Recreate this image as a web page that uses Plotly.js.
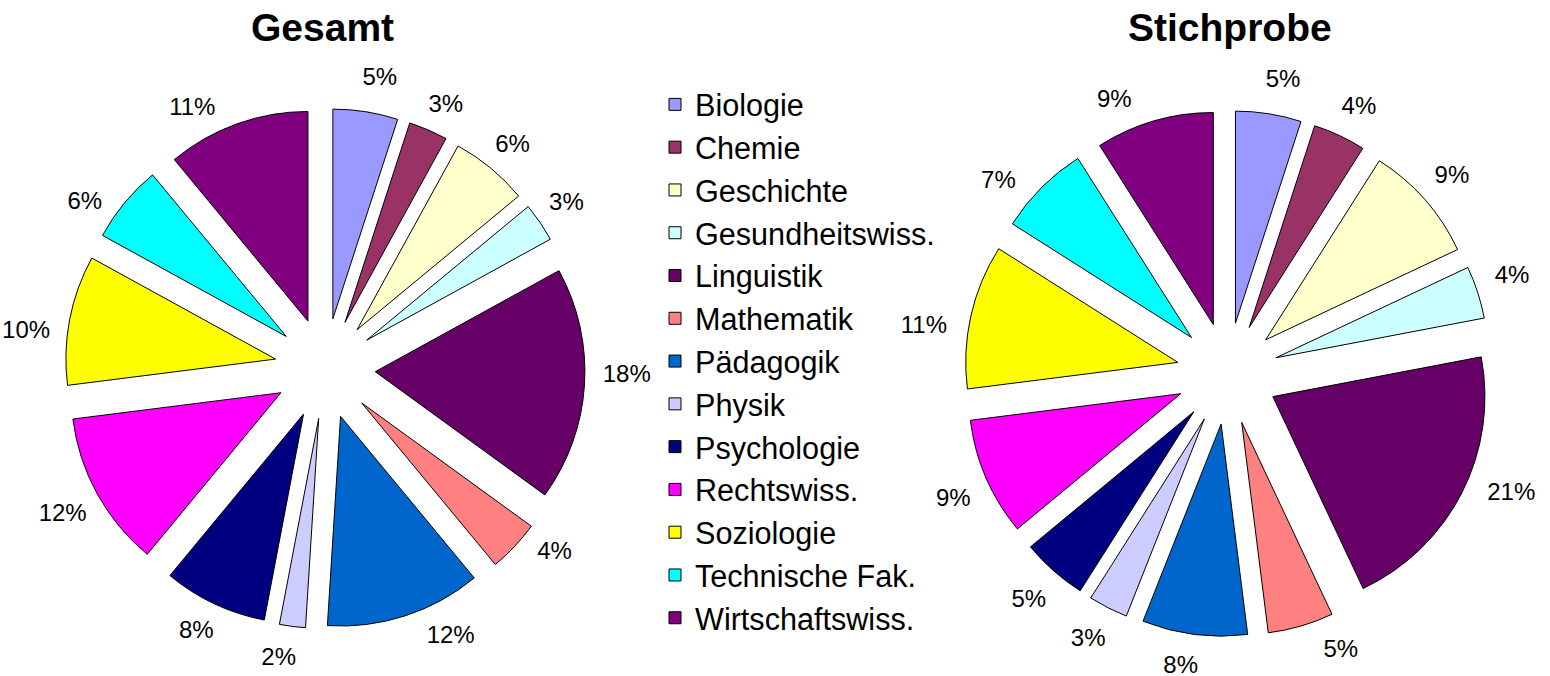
<!DOCTYPE html>
<html>
<head>
<meta charset="utf-8">
<script src="https://cdn.plot.ly/plotly-3.0.1.min.js"></script>
<style>html,body{margin:0;padding:0;background:#fff;}#chart{width:1550px;height:676px;}
#chart path.textline{display:none !important;}</style>
</head>
<body>
<div id="chart"></div>
<script>
const categories = ["Biologie","Chemie","Geschichte","Gesundheitswiss.","Linguistik","Mathematik","Pädagogik","Physik","Psychologie","Rechtswiss.","Soziologie","Technische Fak.","Wirtschaftswiss."];
const gesamtValues = [5,3,6,3,18,4,12,2,8,12,10,6,11];
const stichprobeValues = [5,4,9,4,21,5,8,3,5,9,11,7,9];
const colors = ["#9999FF","#993366","#FFFFCC","#CCFFFF","#660066","#FF8080","#0066CC","#CCCCFF","#000080","#FF00FF","#FFFF00","#00FFFF","#800080"];
const titles = ["Gesamt","Stichprobe"];

const W = 1550, H = 676;
const FONT = 'Arial, Liberation Sans, sans-serif';
// visible exploded pie (no text)
function pieTrace(vals, cx, cy, r, show) {
  return {
    type: 'pie', labels: categories, values: vals, sort: false,
    direction: 'clockwise', rotation: 0,
    pull: vals.map(() => 0.24),
    marker: {colors: colors, line: {color: '#000', width: 1}},
    textinfo: 'none',
    domain: {x: [(cx - r)/W, (cx + r)/W], y: [1-(cy + r)/H, 1-(cy - r)/H]},
    showlegend: show, hoverinfo: 'label+percent'
  };
}
// invisible pie carrying the percentage labels further out
function labelTrace(vals, cx, cy, r) {
  return {
    type: 'pie', labels: categories, values: vals, sort: false,
    direction: 'clockwise', rotation: -2.5,
    marker: {colors: vals.map(() => 'rgba(0,0,0,0)'), line: {width: 0}},
    textposition: 'outside', textinfo: 'percent',
    texttemplate: '%{percent:.0%}',
    textfont: {family: FONT, size: 24, color: '#000'},
    domain: {x: [(cx - r)/W, (cx + r)/W], y: [1-(cy + r)/H, 1-(cy - r)/H]},
    showlegend: false, hoverinfo: 'skip'
  };
}
const data = [
  labelTrace(gesamtValues, 325, 368.5, 271),
  labelTrace(stichprobeValues, 1227.5, 373.5, 278),
  pieTrace(gesamtValues, 325, 368.5, 260, true),
  pieTrace(stichprobeValues, 1227.5, 373.5, 263, false)
];
const layout = {
  width: W, height: H,
  margin: {l: 0, r: 0, t: 0, b: 0},
  paper_bgcolor: '#fff',
  font: {family: FONT, color: '#000'},
  legend: {x: 655/W, y: 1-78/H, xanchor: 'left', yanchor: 'top', bgcolor: 'rgba(0,0,0,0)',
           font: {size: 30.6, family: FONT}, traceorder: 'normal'},
  annotations: [
    {text: '<b>' + titles[0] + '</b>', x: 322/W, y: 1-28/H, xref: 'paper', yref: 'paper', xanchor: 'center', yanchor: 'middle', showarrow: false, font: {size: 39}},
    {text: '<b>' + titles[1] + '</b>', x: 1230/W, y: 1-28/H, xref: 'paper', yref: 'paper', xanchor: 'center', yanchor: 'middle', showarrow: false, font: {size: 39}}
  ]
};
Plotly.newPlot('chart', data, layout, {displayModeBar: false, staticPlot: true});
</script>
</body>
</html>
